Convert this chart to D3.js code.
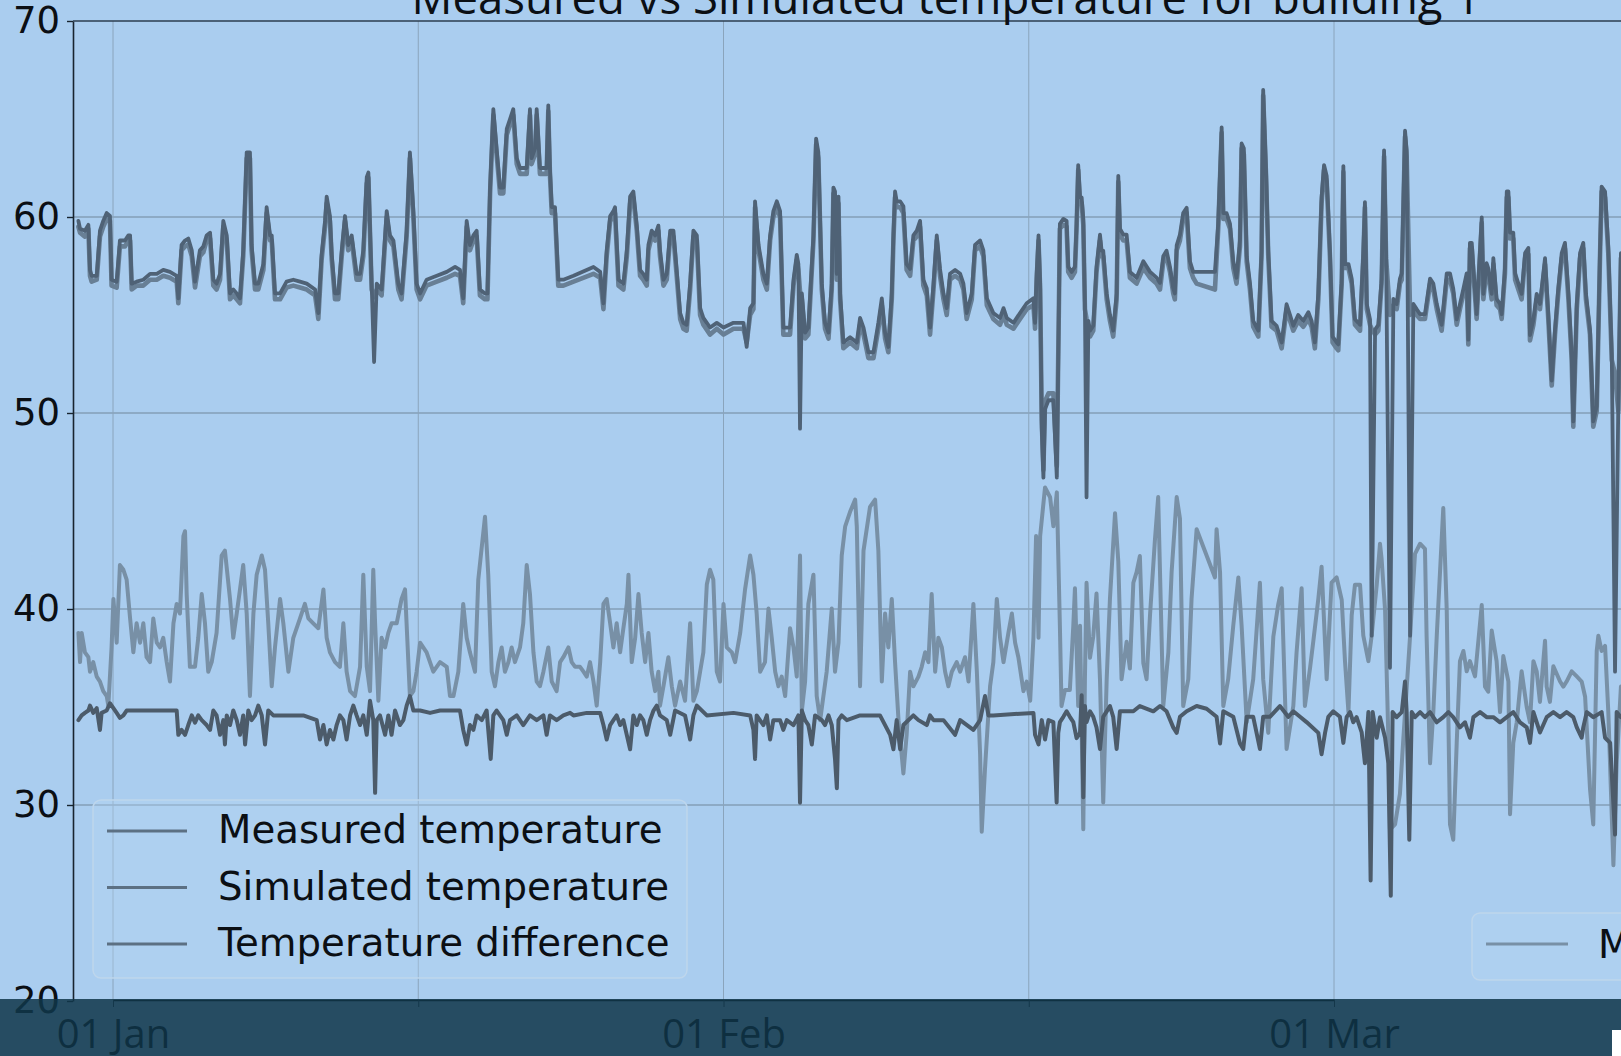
<!DOCTYPE html>
<html>
<head>
<meta charset="utf-8">
<script src="https://cdn.jsdelivr.net/npm/d3@7"></script>
<style>
  html, body { margin: 0; padding: 0; background: #aacdef; overflow: hidden; }
  svg { display: block; }
</style>
</head>
<body>
<svg id="chart" width="1621" height="1056"></svg>
<script>
// ---- axis ticks -------------------------------------------------------
const yTicks = [20, 30, 40, 50, 60, 70];
const xTickDays = [0, 15, 30, 45, 60, 75];
const xTickLabels = ['01 Jan', '', '01 Feb', '', '01 Mar', ''];

// ---- series: [day offset from 01 Jan, temperature] --------------------
const measured = [
[-1.70,59.8],[-1.62,59.4],[-1.38,59.3],[-1.21,59.6],[-1.13,57.3],[-1.05,57.0],[-0.80,57.0],[-0.64,59.3],[-0.48,59.8],[-0.31,60.2],[-0.15,60.05],[-0.07,56.8],[0.18,56.7],[0.34,58.8],[0.59,58.8],[0.75,59.06],[0.84,59.06],[0.92,56.6],[1.16,56.7],[1.49,56.8],[1.82,57.1],[2.15,57.1],[2.47,57.3],[2.80,57.2],[3.13,57.0],[3.21,55.85],[3.37,58.57],[3.54,58.8],[3.70,58.9],[3.87,58.3],[4.03,56.7],[4.27,58.3],[4.44,58.5],[4.60,59.06],[4.77,59.2],[4.93,56.8],[5.09,56.6],[5.26,57.1],[5.42,59.8],[5.59,59.06],[5.75,56.1],[5.91,56.3],[6.08,56.1],[6.24,55.85],[6.40,58.3],[6.57,63.3],[6.73,63.3],[6.81,58.6],[6.98,56.6],[7.14,56.6],[7.39,57.6],[7.55,60.5],[7.72,59.06],[7.80,59.06],[7.96,56.1],[8.21,56.1],[8.53,56.7],[8.86,56.8],[9.19,56.7],[9.52,56.6],[9.93,56.3],[10.09,55.1],[10.25,58.07],[10.42,59.8],[10.50,61.04],[10.66,60.05],[10.75,58.07],[10.91,56.1],[11.07,56.1],[11.24,58.3],[11.40,60.05],[11.56,58.57],[11.73,59.06],[11.97,57.1],[12.14,57.1],[12.30,58.3],[12.47,62.03],[12.55,62.27],[12.71,56.6],[12.83,52.6],[12.96,56.6],[13.20,56.3],[13.45,60.3],[13.61,59.06],[13.78,58.8],[14.02,56.6],[14.18,56.1],[14.43,59.3],[14.59,63.3],[14.76,60.3],[14.92,56.6],[15.09,56.1],[15.41,56.8],[15.91,57.0],[16.40,57.2],[16.81,57.45],[17.05,57.3],[17.21,55.85],[17.38,59.8],[17.54,58.57],[17.71,59.06],[17.87,59.3],[18.03,56.3],[18.28,56.1],[18.40,56.1],[18.53,61.5],[18.69,65.5],[18.85,63.5],[19.02,61.5],[19.18,61.5],[19.35,64.5],[19.51,65.0],[19.67,65.5],[19.84,63.0],[20.00,62.5],[20.33,62.5],[20.49,65.5],[20.57,63.0],[20.74,63.5],[20.82,65.5],[20.98,62.5],[21.31,62.5],[21.39,65.7],[21.47,62.5],[21.56,60.5],[21.72,60.5],[21.88,56.8],[22.13,56.8],
[22.63,57.0],[23.61,57.45],[23.94,57.2],[24.10,55.6],[24.26,58.3],[24.43,60.05],[24.59,60.3],[24.67,60.5],[24.84,56.8],[25.08,56.6],[25.25,58.3],[25.41,61.04],[25.57,61.3],[25.74,59.56],[25.90,57.3],[26.06,57.1],[26.23,56.8],[26.31,58.57],[26.47,59.3],[26.64,59.06],[26.80,59.56],[26.88,58.3],[27.05,56.8],[27.21,57.1],[27.38,59.3],[27.54,59.3],[27.70,57.3],[27.87,55.1],[28.03,54.6],[28.19,54.5],[28.36,56.6],[28.52,59.3],[28.69,59.06],[28.85,55.35],[29.01,54.85],[29.34,54.36],[29.67,54.6],[30.00,54.36],[30.49,54.6],[30.98,54.6],[31.14,53.37],[31.31,55.35],[31.47,55.6],[31.55,60.8],[31.72,58.57],[31.96,57.1],[32.13,56.6],[32.29,59.06],[32.45,60.3],[32.62,60.8],[32.78,60.3],[32.94,54.36],[33.27,54.36],[33.44,56.8],[33.60,58.07],[33.68,57.6],[33.76,49.2],[33.85,56.1],[34.01,54.1],[34.17,54.36],[34.42,59.06],[34.55,64.0],[34.66,63.3],[34.83,56.6],[34.99,54.6],[35.16,54.1],[35.32,56.6],[35.40,61.5],[35.48,61.3],[35.57,57.1],[35.65,61.04],[35.73,56.1],[35.89,53.6],[36.22,53.87],[36.55,53.6],[36.71,54.85],[36.88,54.36],[37.12,53.1],[37.37,53.1],[37.61,54.6],[37.78,55.85],[37.94,54.1],[38.10,53.37],[38.27,56.1],[38.35,59.06],[38.43,61.3],[38.51,60.8],[38.68,60.8],[38.84,60.55],[39.00,57.6],[39.17,57.35],[39.33,59.06],[39.50,59.3],[39.66,59.8],[39.82,56.8],[39.99,56.35],[40.15,54.36],[40.32,56.6],[40.48,59.06],[40.64,57.35],[40.81,56.1],[40.97,55.35],[41.13,57.1],[41.38,57.3],[41.63,57.1],[41.79,56.6],[41.95,55.1],[42.20,56.1],[42.36,58.57],[42.61,58.8],[42.77,58.3],[42.94,55.85],[43.26,55.1],[43.59,54.85],[43.76,55.35],[43.92,54.85],[44.25,54.6],[44.57,55.1],[44.90,55.6],[45.23,55.85],[45.31,54.6],[45.39,57.1],[45.48,59.06],[45.56,56.6],[45.64,49.2],[45.72,46.7],[45.80,50.2],[45.97,50.65],[46.21,50.65],[46.38,46.7],
[46.53,59.65],[46.70,59.9],[46.86,59.8],[46.94,57.46],[47.11,57.2],[47.27,57.46],[47.35,59.65],[47.43,62.65],[47.52,61.0],[47.60,61.0],[47.68,59.9],[47.76,55.55],[47.84,45.7],[47.93,54.7],[48.01,54.2],[48.17,54.45],[48.33,57.46],[48.50,59.1],[48.58,58.28],[48.66,58.28],[48.83,56.1],[48.99,55.0],[49.15,54.2],[49.32,56.1],[49.40,62.1],[49.48,59.4],[49.65,59.1],[49.81,59.1],[49.97,57.2],[50.30,56.9],[50.63,57.74],[50.96,57.2],[51.28,56.9],[51.45,56.64],[51.61,58.0],[51.77,58.28],[51.94,57.46],[52.10,56.37],[52.18,56.1],[52.27,58.55],[52.43,59.1],[52.59,60.2],[52.76,60.47],[52.92,57.74],[53.08,57.2],[53.25,57.2],[54.15,57.2],[54.31,59.65],[54.48,64.57],[54.56,60.2],[54.72,60.2],[54.89,59.65],[55.05,57.74],[55.21,56.9],[55.38,58.83],[55.46,63.75],[55.57,63.5],[55.71,58.0],[55.87,56.64],[56.03,54.7],[56.28,54.2],[56.44,58.28],[56.52,66.48],[56.66,62.38],[56.77,58.28],[56.93,54.7],[57.18,54.45],[57.43,53.6],[57.67,55.55],[57.84,55.0],[58.00,54.45],[58.24,55.0],[58.49,54.7],[58.74,55.14],[58.90,54.7],[59.06,53.6],[59.23,56.1],[59.39,61.0],[59.51,62.65],[59.64,62.1],[59.80,58.28],[59.93,53.9],[60.13,53.6],
[60.21,53.5],[60.38,56.86],[60.46,62.6],[60.54,57.6],[60.71,57.6],[60.87,56.86],[61.03,54.78],[61.28,54.5],[61.44,58.16],[61.52,60.76],[61.61,55.56],[61.77,54.78],[61.85,38.64],[62.02,54.26],[62.18,54.5],[62.34,56.86],[62.46,63.4],[62.56,58.16],[62.75,37.0],[62.92,55.82],[63.08,55.56],[63.24,56.86],[63.33,57.12],[63.49,64.4],[63.57,63.4],[63.74,38.64],[63.90,55.56],[64.06,55.3],[64.23,55.04],[64.47,55.04],[64.72,56.86],[64.88,56.6],[65.05,55.56],[65.29,54.5],[65.54,57.12],[65.70,57.12],[65.86,56.34],[66.03,54.78],[66.19,55.56],[66.36,56.34],[66.52,57.12],[66.60,53.74],[66.68,58.68],[66.77,58.68],[66.85,57.38],[67.01,55.04],[67.26,59.98],[67.34,56.08],[67.50,57.64],[67.58,57.38],[67.75,56.08],[67.83,57.9],[67.99,55.82],[68.16,55.56],[68.24,55.04],[68.40,57.38],[68.49,61.3],[68.57,61.3],[68.65,59.2],[68.81,59.2],[68.90,57.12],[69.06,56.6],[69.22,56.08],[69.39,58.16],[69.55,58.42],[69.63,53.98],[69.80,54.78],[69.96,56.08],[70.12,55.56],[70.37,57.9],[70.53,55.04],[70.70,51.65],[70.86,54.26],[71.02,56.34],[71.19,58.16],[71.35,58.68],[71.52,56.08],[71.68,52.95],[71.76,49.57],[71.93,55.56],[72.09,58.16],[72.25,58.68],[72.38,56.08],[72.58,54.26],[72.74,49.57],[72.91,50.35],[73.07,58.16],[73.15,61.55],[73.32,61.3],[73.48,58.42],[73.65,52.95],[73.81,36.8],[73.97,50.35],[74.10,58.16]
];

const simulated = [
[-1.70,59.5],[-1.62,59.2],[-1.38,59.0],[-1.21,59.4],[-1.13,57.0],[-1.05,56.7],[-0.80,56.8],[-0.64,59.0],[-0.48,59.5],[-0.31,59.9],[-0.15,59.8],[-0.07,56.5],[0.18,56.4],[0.34,58.5],[0.59,58.5],[0.75,58.8],[0.84,58.8],[0.92,56.3],[1.16,56.5],[1.49,56.5],[1.82,56.8],[2.15,56.8],[2.47,57.0],[2.80,56.9],[3.13,56.7],[3.21,55.6],[3.37,58.3],[3.54,58.5],[3.70,58.6],[3.87,58.0],[4.03,56.4],[4.27,58.0],[4.44,58.2],[4.60,58.8],[4.77,58.9],[4.93,56.5],[5.09,56.3],[5.26,56.8],[5.42,59.5],[5.59,58.8],[5.75,55.8],[5.91,56.0],[6.08,55.8],[6.24,55.6],[6.40,58.0],[6.57,63.0],[6.73,63.0],[6.81,58.3],[6.98,56.3],[7.14,56.3],[7.39,57.3],[7.55,60.2],[7.72,58.8],[7.80,58.8],[7.96,55.8],[8.21,55.8],[8.53,56.4],[8.86,56.5],[9.19,56.4],[9.52,56.3],[9.93,56.0],[10.09,54.8],[10.25,57.8],[10.42,59.5],[10.50,60.7],[10.66,59.8],[10.75,57.8],[10.91,55.8],[11.07,55.8],[11.24,58.0],[11.40,59.8],[11.56,58.3],[11.73,58.8],[11.97,56.8],[12.14,56.8],[12.30,58.0],[12.47,61.7],[12.55,62.0],[12.71,56.3],[12.83,55.9],[12.96,56.3],[13.20,56.0],[13.45,60.0],[13.61,58.8],[13.78,58.5],[14.02,56.3],[14.18,55.8],[14.43,59.0],[14.59,63.0],[14.76,60.0],[14.92,56.3],[15.09,55.8],[15.41,56.5],[15.91,56.7],[16.40,56.9],[16.81,57.1],[17.05,57.0],[17.21,55.6],[17.38,59.5],[17.54,58.3],[17.71,58.8],[17.87,59.0],[18.03,56.0],[18.28,55.8],[18.40,55.8],[18.53,61.2],[18.69,65.2],[18.85,63.2],[19.02,61.2],[19.18,61.2],[19.35,64.2],[19.51,64.7],[19.67,65.2],[19.84,62.7],[20.00,62.2],[20.33,62.2],[20.49,65.2],[20.57,62.7],[20.74,63.2],[20.82,65.2],[20.98,62.2],[21.31,62.2],[21.39,65.4],[21.47,62.2],[21.56,60.2],[21.72,60.2],[21.88,56.5],[22.13,56.5],
[22.63,56.7],[23.61,57.1],[23.94,56.9],[24.10,55.3],[24.26,58.0],[24.43,59.8],[24.59,60.0],[24.67,60.2],[24.84,56.5],[25.08,56.3],[25.25,58.0],[25.41,60.7],[25.57,61.0],[25.74,59.3],[25.90,57.0],[26.06,56.8],[26.23,56.5],[26.31,58.3],[26.47,59.0],[26.64,58.8],[26.80,59.3],[26.88,58.0],[27.05,56.5],[27.21,56.8],[27.38,59.0],[27.54,59.0],[27.70,57.0],[27.87,54.8],[28.03,54.3],[28.19,54.2],[28.36,56.3],[28.52,59.0],[28.69,58.8],[28.85,55.0],[29.01,54.5],[29.34,54.0],[29.67,54.3],[30.00,54.0],[30.49,54.3],[30.98,54.3],[31.14,53.6],[31.31,55.0],[31.47,55.3],[31.55,60.5],[31.72,58.3],[31.96,56.8],[32.13,56.3],[32.29,58.8],[32.45,60.0],[32.62,60.5],[32.78,60.0],[32.94,54.0],[33.27,54.0],[33.44,56.5],[33.60,57.8],[33.68,57.3],[33.76,56.2],[33.85,55.8],[34.01,53.8],[34.17,54.0],[34.42,58.8],[34.55,63.7],[34.66,63.0],[34.83,56.3],[34.99,54.3],[35.16,53.8],[35.32,56.3],[35.40,61.2],[35.48,61.0],[35.57,56.8],[35.65,60.7],[35.73,55.8],[35.89,53.3],[36.22,53.6],[36.55,53.3],[36.71,54.5],[36.88,54.0],[37.12,52.8],[37.37,52.8],[37.61,54.3],[37.78,55.5],[37.94,53.8],[38.10,53.1],[38.27,55.8],[38.35,58.8],[38.43,61.0],[38.51,60.5],[38.68,60.5],[38.84,60.2],[39.00,57.3],[39.17,57.0],[39.33,58.8],[39.50,59.0],[39.66,59.5],[39.82,56.5],[39.99,56.0],[40.15,54.0],[40.32,56.3],[40.48,58.8],[40.64,57.0],[40.81,55.8],[40.97,55.0],[41.13,56.8],[41.38,57.0],[41.63,56.8],[41.79,56.3],[41.95,54.8],[42.20,55.8],[42.36,58.3],[42.61,58.5],[42.77,58.0],[42.94,55.5],[43.26,54.8],[43.59,54.5],[43.76,55.0],[43.92,54.5],[44.25,54.3],[44.57,54.8],[44.90,55.3],[45.23,55.5],[45.31,54.3],[45.39,56.8],[45.48,58.8],[45.56,56.3],[45.64,49.6],[45.72,47.1],[45.80,50.6],[45.97,51.0],[46.21,51.0],[46.38,47.3],
[46.53,59.4],[46.70,59.6],[46.86,59.5],[46.94,57.2],[47.11,56.9],[47.27,57.2],[47.35,59.4],[47.43,62.4],[47.52,60.7],[47.60,60.7],[47.68,59.6],[47.76,55.3],[47.84,54.8],[47.93,54.4],[48.01,53.9],[48.17,54.2],[48.33,57.2],[48.50,58.8],[48.58,58.0],[48.66,58.0],[48.83,55.8],[48.99,54.7],[49.15,53.9],[49.32,55.8],[49.40,61.8],[49.48,59.1],[49.65,58.8],[49.81,58.8],[49.97,56.9],[50.30,56.6],[50.63,57.4],[50.96,56.9],[51.28,56.6],[51.45,56.3],[51.61,57.7],[51.77,58.0],[51.94,57.2],[52.10,56.1],[52.18,55.8],[52.27,58.3],[52.43,58.8],[52.59,59.9],[52.76,60.2],[52.92,57.4],[53.08,56.9],[53.25,56.6],[54.15,56.3],[54.31,59.4],[54.48,64.3],[54.56,59.9],[54.72,59.9],[54.89,59.4],[55.05,57.4],[55.21,56.6],[55.38,58.5],[55.46,63.5],[55.57,63.2],[55.71,57.7],[55.87,56.3],[56.03,54.4],[56.28,53.9],[56.44,58.0],[56.52,66.2],[56.66,62.1],[56.77,58.0],[56.93,54.4],[57.18,54.2],[57.43,53.3],[57.67,55.3],[57.84,54.7],[58.00,54.2],[58.24,54.7],[58.49,54.4],[58.74,54.8],[58.90,54.4],[59.06,53.3],[59.23,55.8],[59.39,60.7],[59.51,62.4],[59.64,61.8],[59.80,58.0],[59.93,53.6],[60.13,53.3],
[60.21,53.2],[60.38,56.6],[60.46,62.3],[60.54,57.4],[60.71,57.4],[60.87,56.6],[61.03,54.5],[61.28,54.2],[61.44,57.9],[61.52,60.5],[61.61,55.3],[61.77,54.5],[61.85,54.3],[62.02,54.0],[62.18,54.2],[62.34,56.6],[62.46,63.1],[62.56,57.9],[62.75,55.0],[62.92,55.5],[63.08,55.3],[63.24,56.6],[63.33,56.8],[63.49,64.1],[63.57,63.1],[63.74,55.0],[63.90,55.3],[64.06,55.0],[64.23,54.8],[64.47,54.8],[64.72,56.6],[64.88,56.3],[65.05,55.3],[65.29,54.2],[65.54,56.8],[65.70,56.8],[65.86,56.1],[66.03,54.5],[66.19,55.3],[66.36,56.1],[66.52,56.8],[66.60,53.5],[66.68,58.4],[66.77,58.4],[66.85,57.1],[67.01,54.8],[67.26,59.7],[67.34,55.8],[67.50,57.4],[67.58,57.1],[67.75,55.8],[67.83,57.6],[67.99,55.5],[68.16,55.3],[68.24,54.8],[68.40,57.1],[68.49,61.0],[68.57,61.0],[68.65,58.9],[68.81,58.9],[68.90,56.8],[69.06,56.3],[69.22,55.8],[69.39,57.9],[69.55,58.1],[69.63,53.7],[69.80,54.5],[69.96,55.8],[70.12,55.3],[70.37,57.6],[70.53,54.8],[70.70,51.4],[70.86,54.0],[71.02,56.1],[71.19,57.9],[71.35,58.4],[71.52,55.8],[71.68,52.7],[71.76,49.3],[71.93,55.3],[72.09,57.9],[72.25,58.4],[72.38,55.8],[72.58,54.0],[72.74,49.3],[72.91,50.1],[73.07,57.9],[73.15,61.3],[73.32,61.0],[73.48,58.1],[73.65,52.7],[73.81,52.0],[73.97,50.1],[74.10,57.9]
];

const tempDifference = [
[-1.70,34.33],[-1.54,34.57],[-1.38,34.7],[-1.21,34.82],[-1.13,35.07],[-0.97,34.7],[-0.80,34.94],[-0.64,33.83],[-0.56,34.7],[-0.31,34.82],[-0.15,35.19],[0.02,34.94],[0.18,34.7],[0.34,34.45],[0.51,34.57],[0.67,34.82],[1.16,34.82],[1.65,34.82],[2.15,34.82],[2.80,34.82],[3.13,34.82],[3.21,33.58],[3.37,33.83],[3.54,33.58],[3.70,34.08],[3.87,34.57],[4.03,34.2],[4.19,34.57],[4.36,34.33],[4.60,34.08],[4.77,33.83],[4.93,34.82],[5.09,34.57],[5.26,33.58],[5.42,34.33],[5.50,33.09],[5.59,34.57],[5.75,34.08],[5.91,34.82],[6.08,34.33],[6.24,33.58],[6.40,34.57],[6.49,33.09],[6.65,34.82],[6.81,34.33],[6.98,34.57],[7.14,35.07],[7.31,34.57],[7.47,33.09],[7.63,34.82],[7.88,34.57],[8.21,34.57],[8.70,34.57],[9.35,34.57],[10.01,34.33],[10.17,33.34],[10.34,34.08],[10.50,33.09],[10.66,33.83],[10.83,33.34],[10.99,34.08],[11.15,34.57],[11.32,34.33],[11.48,33.34],[11.65,34.57],[11.81,35.07],[11.97,34.57],[12.14,34.08],[12.30,34.57],[12.47,33.58],[12.63,35.32],[12.79,34.33],[12.88,30.62],[12.96,34.33],[13.12,34.57],[13.37,33.58],[13.53,34.57],[13.69,33.58],[13.86,34.82],[14.10,34.08],[14.27,34.33],[14.43,35.07],[14.59,35.56],[14.76,34.82],[15.09,34.82],[15.58,34.7],[16.07,34.82],[16.56,34.82],[17.05,34.82],[17.21,33.83],[17.38,33.09],[17.54,34.08],[17.71,33.83],[17.87,34.57],[18.12,34.33],[18.36,34.82],[18.56,32.35],[18.69,34.57],[18.85,34.82],[19.18,34.33],[19.35,33.58],[19.51,34.33],[19.84,34.57],[20.16,34.08],[20.49,34.57],[20.82,34.33],[21.15,34.57],[21.31,33.58],[21.47,34.57],[21.80,34.33],[22.13,34.57],[22.46,34.7],
[22.63,34.57],[23.28,34.7],[23.94,34.7],[24.10,34.08],[24.26,33.34],[24.43,34.08],[24.59,34.33],[24.75,34.57],[24.92,34.08],[25.08,34.33],[25.41,32.84],[25.57,34.57],[25.74,34.08],[25.90,34.57],[26.06,34.33],[26.23,33.58],[26.39,34.33],[26.56,34.82],[26.72,35.07],[26.88,34.57],[27.21,34.33],[27.38,33.58],[27.62,34.82],[28.11,34.57],[28.36,33.34],[28.52,34.57],[28.69,35.07],[29.18,34.57],[30.49,34.7],[31.31,34.57],[31.47,33.83],[31.55,32.35],[31.63,34.57],[31.96,34.08],[32.13,34.57],[32.29,33.34],[32.45,34.33],[32.78,34.33],[32.94,33.83],[33.11,34.33],[33.44,34.08],[33.68,34.57],[33.76,30.12],[33.85,34.82],[34.01,34.33],[34.17,34.08],[34.34,33.09],[34.50,34.57],[34.83,34.33],[34.99,34.08],[35.16,34.57],[35.32,34.08],[35.48,32.35],[35.57,30.86],[35.65,34.33],[35.81,34.57],[36.06,34.33],[36.71,34.57],[37.69,34.57],[38.19,33.58],[38.35,32.84],[38.51,34.33],[38.68,32.84],[38.84,34.08],[39.33,34.57],[39.58,34.33],[39.99,34.08],[40.15,34.57],[40.32,34.33],[40.81,34.33],[41.38,33.58],[41.63,34.33],[42.28,33.83],[42.61,34.33],[42.85,35.56],[43.02,34.57],[43.26,34.57],[45.23,34.7],[45.31,33.58],[45.48,33.09],[45.64,34.33],[45.80,33.34],[45.97,34.33],[46.21,34.23],
[46.37,30.13],[46.45,33.68],[46.53,34.23],[46.70,34.5],[46.86,34.78],[47.02,34.5],[47.19,34.23],[47.35,33.41],[47.52,33.68],[47.60,35.6],[47.68,30.4],[47.76,35.05],[47.84,34.23],[48.01,34.78],[48.17,34.5],[48.33,33.96],[48.50,32.86],[48.66,34.5],[48.83,34.78],[48.99,35.05],[49.15,34.5],[49.32,32.86],[49.48,34.78],[50.14,34.78],[50.46,35.05],[51.12,34.78],[51.45,35.05],[51.77,34.78],[52.10,33.96],[52.27,33.68],[52.43,34.5],[52.76,34.78],[53.25,35.05],[53.74,34.91],[54.23,34.5],[54.40,33.14],[54.56,34.78],[55.05,34.5],[55.38,33.14],[55.54,32.86],[55.71,34.5],[56.03,34.5],[56.36,32.86],[56.52,34.5],[56.85,34.5],[57.34,35.05],[57.75,34.5],[58.00,34.78],[58.33,34.5],[58.65,34.23],[59.23,33.68],[59.39,32.59],[59.56,33.68],[59.72,34.5],[59.96,34.78],[60.29,34.5],
[60.46,33.17],[60.62,34.48],[60.79,34.74],[60.95,34.22],[61.11,34.48],[61.36,33.7],[61.52,32.13],[61.69,34.74],[61.80,26.15],[61.90,34.74],[62.10,33.43],[62.26,34.48],[62.51,33.43],[62.67,32.13],[62.79,25.37],[62.88,34.74],[63.08,34.48],[63.33,34.74],[63.49,36.3],[63.57,34.74],[63.70,28.23],[63.82,34.74],[63.98,34.48],[64.23,34.74],[64.47,34.48],[64.72,34.74],[65.05,34.22],[65.37,34.48],[65.62,34.74],[65.86,34.48],[66.19,33.96],[66.44,34.22],[66.68,33.43],[66.85,34.48],[67.18,34.74],[67.50,34.48],[67.83,34.48],[68.16,34.22],[68.49,34.48],[68.81,34.74],[69.14,34.22],[69.47,33.96],[69.63,33.17],[69.80,34.74],[70.12,33.7],[70.45,34.48],[70.78,34.74],[71.11,34.48],[71.43,34.74],[71.76,34.48],[71.93,33.96],[72.17,33.43],[72.25,33.96],[72.42,34.74],[72.74,34.48],[73.15,34.74],[73.32,33.43],[73.57,33.17],[73.81,28.49],[73.89,34.74],[74.10,34.48]
];

const outdoorTemp = [
[-1.70,38.78],[-1.62,37.29],[-1.54,38.78],[-1.38,37.79],[-1.21,37.54],[-1.13,36.8],[-0.97,37.29],[-0.80,36.55],[-0.64,36.3],[-0.48,35.81],[-0.31,35.56],[-0.23,35.07],[-0.07,38.04],[0.02,40.51],[0.18,38.28],[0.34,42.24],[0.51,42.0],[0.67,41.5],[0.84,39.52],[1.00,37.79],[1.16,39.27],[1.33,38.28],[1.49,39.27],[1.65,37.54],[1.82,37.29],[1.98,39.52],[2.15,38.28],[2.31,38.04],[2.47,38.53],[2.64,37.29],[2.80,36.3],[2.97,39.27],[3.13,40.26],[3.29,39.77],[3.46,43.72],[3.54,43.97],[3.62,40.76],[3.78,37.05],[4.03,37.05],[4.19,38.53],[4.36,40.76],[4.52,39.27],[4.68,36.8],[4.85,37.29],[5.09,38.78],[5.34,42.73],[5.50,42.98],[5.75,40.51],[5.91,38.53],[6.08,39.77],[6.24,41.0],[6.40,42.24],[6.57,39.77],[6.73,35.56],[6.90,39.77],[7.06,41.75],[7.31,42.73],[7.47,42.0],[7.63,39.27],[7.80,36.06],[7.96,38.04],[8.21,40.51],[8.37,39.27],[8.62,36.8],[8.86,38.53],[9.19,39.52],[9.43,40.26],[9.60,39.52],[9.84,39.27],[10.09,39.02],[10.34,41.0],[10.50,38.53],[10.66,37.79],[10.91,37.29],[11.15,37.05],[11.32,39.27],[11.48,36.8],[11.65,35.81],[11.89,35.56],[12.14,37.05],[12.30,41.75],[12.47,37.05],[12.63,35.81],[12.79,42.0],[12.88,39.27],[13.04,35.32],[13.20,38.53],[13.37,38.04],[13.53,38.78],[13.69,39.27],[13.94,39.27],[14.18,40.51],[14.35,41.0],[14.59,35.56],[14.76,35.81],[14.92,36.8],[15.09,38.28],[15.41,37.79],[15.74,36.8],[16.07,37.29],[16.40,37.05],[16.56,35.56],[16.73,35.56],[16.97,36.8],[17.21,40.26],[17.38,38.53],[17.54,37.79],[17.79,36.8],[17.95,41.5],[18.28,44.71],[18.44,41.75],[18.61,36.8],[18.77,36.06],[18.94,37.29],[19.10,38.04],[19.26,36.8],[19.43,37.29],[19.59,38.04],[19.75,37.29],[20.00,38.04],[20.16,39.27],[20.33,42.24],[20.49,40.76],[20.66,37.79],[20.82,36.3],[20.98,36.06],[21.15,36.8],[21.39,38.04],[21.56,36.3],[21.80,35.81],[21.97,37.29],
[22.13,37.54],[22.38,38.04],[22.54,37.29],[22.71,37.05],[22.95,37.05],[23.12,36.8],[23.28,36.55],[23.44,37.29],[23.61,36.3],[23.77,35.07],[23.94,37.29],[24.10,40.26],[24.26,40.51],[24.43,39.27],[24.59,38.04],[24.75,39.27],[24.92,37.79],[25.08,39.02],[25.25,40.26],[25.33,41.75],[25.49,37.29],[25.66,38.53],[25.82,40.76],[25.98,38.78],[26.15,37.29],[26.31,38.78],[26.47,36.8],[26.64,35.81],[26.80,36.8],[26.88,35.07],[27.05,36.06],[27.29,37.54],[27.46,36.06],[27.62,35.07],[27.87,36.3],[28.11,35.32],[28.36,39.27],[28.52,35.32],[28.69,35.81],[28.85,36.8],[29.01,37.79],[29.18,41.25],[29.34,42.0],[29.50,41.5],[29.67,36.8],[29.83,36.3],[30.00,40.26],[30.16,38.04],[30.41,37.79],[30.57,37.29],[30.82,38.78],[31.06,41.0],[31.31,42.73],[31.47,41.75],[31.63,39.77],[31.80,36.8],[32.04,37.29],[32.21,40.02],[32.37,38.53],[32.54,36.8],[32.70,36.06],[32.86,36.55],[33.03,35.56],[33.27,39.02],[33.44,38.04],[33.60,36.55],[33.76,42.73],[33.85,34.82],[34.01,36.3],[34.17,40.26],[34.42,41.75],[34.58,35.56],[34.75,34.33],[35.07,36.8],[35.32,40.02],[35.48,36.8],[35.65,38.28],[35.81,42.73],[35.98,44.22],[36.22,44.96],[36.47,45.58],[36.55,44.22],[36.71,36.06],[36.88,42.98],[37.20,45.21],[37.45,45.58],[37.61,42.98],[37.78,36.3],[37.94,39.77],[38.10,38.04],[38.27,40.51],[38.43,37.29],[38.60,34.33],[38.84,31.61],[39.00,33.58],[39.17,36.8],[39.33,36.06],[39.58,36.55],[39.74,37.05],[39.91,37.79],[40.07,37.29],[40.23,40.76],[40.40,36.8],[40.56,38.53],[40.73,38.04],[40.89,36.8],[41.05,36.06],[41.22,36.8],[41.46,37.29],[41.63,36.8],[41.87,37.54],[42.04,36.3],[42.28,40.26],[42.45,36.8],[42.61,32.59],[42.69,28.64],[42.85,31.85],[43.10,36.06],[43.26,37.29],[43.43,40.51],[43.59,38.53],[43.76,37.29],[44.00,38.78],[44.17,39.77],[44.33,38.28],[44.49,37.54],[44.74,35.81],[44.90,36.3],[45.07,35.32],[45.23,38.53],[45.36,43.72],[45.48,38.53],[45.56,43.72],[45.80,46.2],[46.05,45.7],[46.21,44.22],[46.38,45.95],
[46.53,39.15],[46.61,35.05],[46.78,35.87],[47.02,35.87],[47.19,39.15],[47.27,41.06],[47.43,35.05],[47.52,39.15],[47.68,28.76],[47.76,36.42],[47.84,41.34],[48.01,37.51],[48.17,38.6],[48.33,40.79],[48.50,36.42],[48.66,30.13],[48.83,36.42],[48.99,40.52],[49.24,44.89],[49.40,42.43],[49.56,36.42],[49.81,38.33],[49.97,36.96],[50.14,41.34],[50.30,41.88],[50.46,42.70],[50.63,37.24],[50.79,36.42],[50.96,39.70],[51.20,43.52],[51.36,45.71],[51.61,35.05],[51.86,37.78],[52.02,41.88],[52.27,45.71],[52.43,44.62],[52.59,35.05],[52.84,36.42],[53.00,40.52],[53.25,44.07],[54.15,41.61],[54.23,44.07],[54.40,41.88],[54.56,35.05],[54.80,36.42],[55.05,39.15],[55.30,41.61],[55.46,39.15],[55.71,34.23],[56.03,36.42],[56.36,41.34],[56.52,36.42],[56.77,33.68],[57.02,38.6],[57.26,40.24],[57.43,41.06],[57.67,32.86],[58.00,35.05],[58.16,37.78],[58.41,41.06],[58.57,35.05],[58.82,36.96],[58.98,38.33],[59.23,40.52],[59.39,42.16],[59.64,36.42],[59.88,41.34],[60.13,41.61],
[60.38,40.46],[60.54,37.34],[60.71,34.74],[60.87,39.68],[61.03,41.24],[61.28,41.24],[61.44,38.64],[61.69,37.34],[61.85,38.64],[62.10,41.24],[62.26,43.33],[62.34,42.55],[62.51,39.94],[62.67,33.43],[62.75,28.75],[63.00,29.01],[63.24,30.57],[63.41,33.43],[63.74,38.64],[63.98,42.81],[64.23,43.33],[64.47,43.07],[64.55,38.64],[64.72,32.13],[64.88,34.74],[65.05,38.64],[65.37,45.15],[65.54,39.94],[65.70,29.01],[65.86,28.23],[66.03,33.17],[66.19,37.34],[66.36,37.86],[66.52,36.82],[66.68,37.34],[66.93,36.56],[67.26,40.2],[67.42,36.04],[67.58,35.78],[67.75,38.9],[67.99,37.34],[68.16,34.74],[68.32,37.6],[68.57,36.3],[68.65,29.53],[68.81,33.17],[68.98,34.22],[69.22,36.82],[69.47,35.0],[69.63,34.22],[69.80,37.34],[69.96,36.82],[70.12,35.26],[70.37,38.38],[70.45,36.04],[70.61,35.26],[70.78,37.08],[71.11,36.3],[71.27,36.04],[71.43,36.3],[71.68,36.82],[71.93,36.56],[72.17,36.3],[72.34,35.52],[72.58,30.83],[72.74,29.01],[72.91,37.86],[72.99,38.64],[73.15,37.86],[73.32,38.12],[73.48,34.74],[73.73,26.93],[73.89,32.13],[74.10,36.04]
];

// ---- layout ---------------------------------------------------------------
const W = 1621, H = 1056;
const plot = { left: 73, top: 21, bottom: 1000 };
const x = d3.scaleLinear().domain([0, 60]).range([113, 1334]);
const y = d3.scaleLinear().domain([20, 70]).range([1001, 21]);

const colors = {
  measured: '#4f6276',
  simulated: '#687f95',
  difference: '#4c5b6a',
  outdoor: '#7890a6'
};

const svg = d3.select('#chart');

svg.append('rect').attr('width', W).attr('height', H).attr('fill', '#aacdef');

svg.append('defs').append('clipPath').attr('id', 'plotClip')
  .append('rect')
  .attr('x', plot.left).attr('y', plot.top)
  .attr('width', W - plot.left).attr('height', plot.bottom - plot.top);

// ---- grid -----------------------------------------------------------------
const grid = svg.append('g');
grid.selectAll('line.h')
  .data(yTicks.filter(v => v > 20 && v < 70))
  .join('line')
  .attr('x1', plot.left).attr('x2', W)
  .attr('y1', d => y(d)).attr('y2', d => y(d))
  .attr('stroke', '#71879b').attr('stroke-width', 1.2);
grid.selectAll('line.v')
  .data(xTickDays)
  .join('line')
  .attr('x1', d => x(d)).attr('x2', d => x(d))
  .attr('y1', plot.top).attr('y2', plot.bottom)
  .attr('stroke', '#8aa4bc').attr('stroke-width', 1);

// ---- series -----------------------------------------------------------------
const line = d3.line().x(d => x(d[0])).y(d => y(d[1]));
const lines = svg.append('g').attr('clip-path', 'url(#plotClip)');
function drawSeries(data, color, width) {
  lines.append('path')
    .datum(data)
    .attr('d', line)
    .attr('fill', 'none')
    .attr('stroke', color)
    .attr('stroke-width', width)
    .attr('stroke-linejoin', 'round')
    .attr('stroke-linecap', 'round');
}
drawSeries(outdoorTemp, colors.outdoor, 4);
drawSeries(tempDifference, colors.difference, 4);
drawSeries(simulated, colors.simulated, 4.6);
drawSeries(measured, colors.measured, 3.8);

// ---- axes -----------------------------------------------------------------
const yAxis = svg.append('g')
  .attr('transform', `translate(${plot.left},0)`)
  .call(d3.axisLeft(y).tickValues(yTicks).tickSize(6).tickSizeOuter(0).tickPadding(7));
yAxis.select('.domain').attr('stroke', '#18242f').attr('stroke-width', 1.6);
yAxis.selectAll('.tick line').attr('stroke', '#18242f').attr('stroke-width', 1.4);
yAxis.selectAll('.tick text')
  .attr('font-family', '"DejaVu Sans", sans-serif')
  .attr('font-size', 37)
  .attr('fill', '#0b0f14');

const xAxis = svg.append('g')
  .attr('transform', `translate(0,${plot.bottom})`)
  .call(d3.axisBottom(x).tickValues(xTickDays)
    .tickFormat((d, i) => xTickLabels[i]).tickSize(7).tickSizeOuter(0).tickPadding(13));
xAxis.select('.domain').attr('stroke', '#0b0f14').attr('stroke-width', 1.6);
xAxis.selectAll('.tick line').attr('stroke', '#2a3a48').attr('stroke-width', 1);
xAxis.selectAll('.tick text')
  .attr('font-family', '"Open Sans", sans-serif')
  .attr('font-size', 40)
  .attr('fill', '#000');

// top spine
svg.append('line')
  .attr('x1', plot.left).attr('x2', W)
  .attr('y1', plot.top).attr('y2', plot.top)
  .attr('stroke', '#2b3d4f').attr('stroke-width', 1.6);

// ---- title ------------------------------------------------------------------
svg.append('text')
  .attr('x', 946).attr('y', 14)
  .attr('text-anchor', 'middle')
  .attr('font-family', '"Open Sans", sans-serif')
  .attr('font-size', 45.5)
  .attr('fill', '#0b0f14')
  .text('Measured vs Simulated temperature for building 1');

// ---- legends ----------------------------------------------------------------
const legendItems = [
  { label: 'Measured temperature', color: colors.measured },
  { label: 'Simulated temperature', color: colors.simulated },
  { label: 'Temperature difference', color: colors.difference }
];
const legend = svg.append('g');
legend.append('rect')
  .attr('x', 93).attr('y', 800).attr('width', 594).attr('height', 178)
  .attr('rx', 8).attr('ry', 8)
  .attr('fill', 'rgba(184,214,243,0.35)')
  .attr('stroke', '#bed6ec').attr('stroke-width', 1.5);
const rows = legend.selectAll('g.row').data(legendItems).join('g')
  .attr('transform', (d, i) => `translate(0,${831 + i * 56.5})`);
rows.append('line')
  .attr('x1', 107).attr('x2', 187)
  .attr('stroke', '#5c7083').attr('stroke-width', 3);
rows.append('text')
  .attr('x', 218).attr('y', 12)
  .attr('font-family', '"DejaVu Sans", sans-serif')
  .attr('font-size', 38.7)
  .attr('fill', '#0b0f14')
  .text(d => d.label);

const legend2 = svg.append('g');
legend2.append('rect')
  .attr('x', 1472).attr('y', 913).attr('width', 300).attr('height', 67)
  .attr('rx', 8).attr('ry', 8)
  .attr('fill', 'rgba(184,214,243,0.35)')
  .attr('stroke', '#bed6ec').attr('stroke-width', 1.5);
legend2.append('line')
  .attr('x1', 1486).attr('x2', 1568).attr('y1', 944).attr('y2', 944)
  .attr('stroke', colors.outdoor).attr('stroke-width', 3);
legend2.append('text')
  .attr('x', 1598).attr('y', 958)
  .attr('font-family', '"DejaVu Sans", sans-serif')
  .attr('font-size', 38.7)
  .attr('fill', '#0b0f14')
  .text('Measured outdoor temperature');

// ---- dark footer band over the date axis ---------------------------------------
svg.append('rect')
  .attr('x', 0).attr('y', 999).attr('width', W).attr('height', H - 999)
  .attr('fill', 'rgb(16,55,75)').attr('opacity', 0.86);
svg.append('rect')
  .attr('x', 1612).attr('y', 1030).attr('width', 9).attr('height', 26)
  .attr('fill', '#ffffff');
</script>
</body>
</html>
